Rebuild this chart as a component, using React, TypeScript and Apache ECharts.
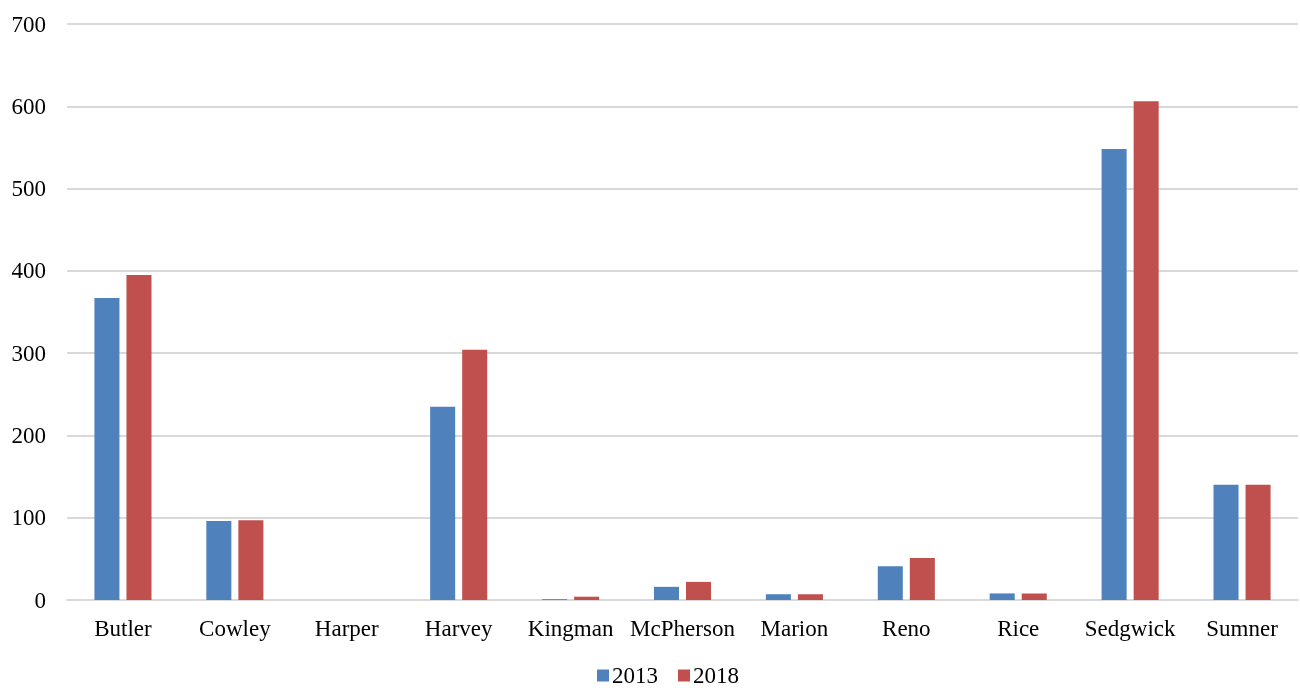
import React, { useEffect, useRef } from "react";
import * as echarts from "echarts";

const categories = ["Butler", "Cowley", "Harper", "Harvey", "Kingman", "McPherson", "Marion", "Reno", "Rice", "Sedgwick", "Sumner"];
const values2013 = [367, 96, 0, 235, 1, 16, 7, 41, 8, 548, 140];
const values2018 = [395, 97, 0, 304, 4, 22, 7, 51, 8, 606, 140];
const seriesNames = ["2013", "2018"];

export default function App() {
  const ref = useRef<HTMLDivElement>(null);
  useEffect(() => {
    const chart = echarts.init(ref.current!, null, { renderer: "svg" });
    const font = "'Liberation Serif', 'Times New Roman', serif";
    chart.setOption({
      animation: false,
      textStyle: { fontFamily: font },
      grid: { left: 67, right: 2, top: 24, bottom: 90 },
      legend: {
        top: 664,
        left: 597,
        padding: 0,
        itemWidth: 12,
        itemHeight: 12,
        itemGap: 20,
        icon: "rect",
        textStyle: { fontFamily: font, fontSize: 23, lineHeight: 20, color: "#000", padding: [0, 0, 0, -2] },
        data: seriesNames,
      },
      xAxis: {
        type: "category",
        data: categories,
        axisLine: { show: true, lineStyle: { color: "#d9d9d9", width: 2 } },
        axisTick: { show: false },
        axisLabel: { fontFamily: font, fontSize: 23, color: "#000", margin: 17, interval: 0 },
      },
      yAxis: {
        type: "value",
        min: 0,
        max: 700,
        interval: 100,
        axisLine: { show: false },
        axisTick: { show: false },
        splitLine: { lineStyle: { color: "#d9d9d9", width: 2 } },
        axisLabel: { fontFamily: font, fontSize: 23, color: "#000", margin: 21 },
      },
      series: [
        {
          name: seriesNames[0],
          type: "bar",
          data: values2013,
          itemStyle: { color: "#4f81bd" },
          barGap: "28%",
          barCategoryGap: "49%",
        },
        {
          name: seriesNames[1],
          type: "bar",
          data: values2018,
          itemStyle: { color: "#c0504d" },
        },
      ],
    });
    return () => chart.dispose();
  }, []);
  return <div ref={ref} style={{ position: "fixed", left: 0, top: 0, width: 1300, height: 690 }} />;
}
